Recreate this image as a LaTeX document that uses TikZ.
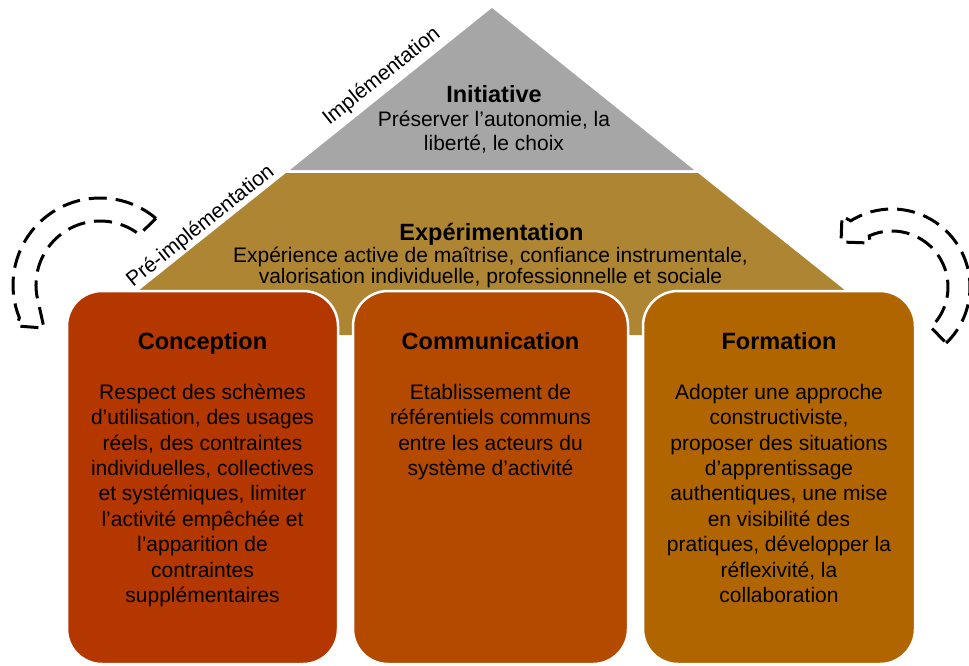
\documentclass[tikz,border=0pt]{standalone}
\usepackage{fontspec}
\setmainfont{Liberation Sans}
\usetikzlibrary{calc}
\definecolor{grayc}{HTML}{A6A6A6}
\definecolor{trapc}{HTML}{AE8533}
\definecolor{concc}{HTML}{B43700}
\definecolor{commc}{HTML}{B34A00}
\definecolor{formc}{HTML}{B06500}
\begin{document}
\begin{tikzpicture}[x=1pt,y=-1pt,
  box/.style={rounded corners=35pt, draw=white, line width=2.5pt, minimum width=#1, minimum height=373pt, inner sep=0pt},
  titletext/.style={font=\bfseries\fontsize{23.5}{28}\selectfont, inner sep=0pt, anchor=base},
  bodytext/.style={font=\fontsize{21}{25.4}\selectfont, align=center, inner sep=0pt, anchor=north},
  sidelabel/.style={font=\fontsize{21}{25}\selectfont, inner sep=0pt, anchor=base, rotate=38.7},
  dasharrow/.style={draw=black, line width=3pt, dash pattern=on 18pt off 9pt, line join=miter}]
\useasboundingbox (0,0) rectangle (969,665);

% pyramid
\fill[trapc] (286,173) -- (698,173) -- (901,335) -- (83,335) -- cycle;
\fill[grayc] (492,8) -- (694,170) -- (290,170) -- cycle;

% pillars
\node[box=271pt, fill=concc] (conc) at (202.5,477.5) {};
\node[box=275pt, fill=commc] (comm) at (490.5,477.5) {};
\node[box=272pt, fill=formc] (form) at (779,477.5) {};

% Initiative
\node[titletext] (initT) at (494,102) {Initiative};
\node[bodytext, font=\fontsize{21}{24}\selectfont] (initB) at (494,106) {\rule{0pt}{20pt}Préserver l’autonomie, la\\liberté, le choix};

% Experimentation
\node[titletext] (expT) at (491.5,240) {Expérimentation};
\node[bodytext, font=\fontsize{21}{21}\selectfont] (expB) at (490.5,242) {\rule{0pt}{20pt}Expérience active de maîtrise, confiance instrumentale,\\valorisation individuelle, professionnelle et sociale};

% pillar texts
\node[titletext] (concT) at (202.5,349) {Conception};
\node[bodytext] (concB) at (202.5,379) {\rule{0pt}{20pt}Respect des schèmes\\d’utilisation, des usages\\réels, des contraintes\\individuelles, collectives\\et systémiques, limiter\\l’activité empêchée et\\l’apparition de\\contraintes\\supplémentaires};

\node[titletext] (commT) at (490.5,349) {Communication};
\node[bodytext] (commB) at (490.5,379) {\rule{0pt}{20pt}Etablissement de\\référentiels communs\\entre les acteurs du\\système d’activité};

\node[titletext] (formT) at (779,349) {Formation};
\node[bodytext] (formB) at (779,379) {\rule{0pt}{20pt}Adopter une approche\\constructiviste,\\proposer des situations\\d’apprentissage\\authentiques, une mise\\en visibilité des\\pratiques, développer la\\réflexivité, la\\collaboration};

% side labels
\node[sidelabel] (impl) at (385.3,80.8) {Implémentation};
\node[sidelabel] (preimpl) at (204.2,230.6) {Pré-implémentation};

% circular dashed arrows
\coordinate (lc) at (100,285);
\coordinate (rc) at (892,287);
\draw[dasharrow] ($(lc)+(-50:87)$) arc[start angle=-50, end angle=-202, radius=87]
  -- (17,326) -- (44,328) -- ($(lc)+(-195:64)$)
  arc[start angle=-195, end angle=-52, radius=64] -- cycle;
\draw[dasharrow] ($(rc)+(46:78)$) arc[start angle=46, end angle=-122, radius=78]
  -- (842,216) -- (841,242) -- (870,243) -- ($(rc)+(-114:56)$)
  arc[start angle=-114, end angle=46, radius=56] -- cycle;
\end{tikzpicture}
\end{document}
